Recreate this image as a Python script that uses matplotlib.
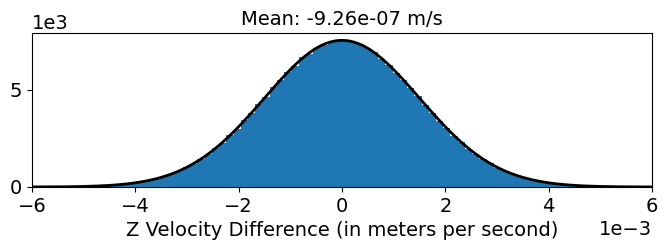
import matplotlib
matplotlib.use("Agg")
import matplotlib.pyplot as plt
import numpy as np
from matplotlib.ticker import MultipleLocator


# histogram: 100 bins from -7e-3 to 7e-3 m/s
bin_lo = -7e-3
bin_hi = 7e-3
counts = [
    0, 0, 1, 0, 1, 2, 1, 3, 4, 7, 9, 10, 18, 21, 33, 40, 59, 73, 103, 128,
    176, 214, 287, 349, 452, 548, 690, 826, 1020, 1205, 1450, 1690, 2010, 2290,
    2660, 3010, 3430, 3810, 4270, 4660, 5130, 5490, 5950, 6260, 6680, 6880,
    7190, 7330, 7510, 7530,
    7560, 7470, 7370, 7140, 6950, 6600, 6310, 5890, 5540, 5080, 4700, 4230,
    3840, 3400, 3040, 2630, 2320, 1980, 1720, 1430, 1220, 1000, 845, 675, 560,
    440, 360, 278, 225, 168, 135, 98, 78, 55, 43, 30, 24, 16, 12, 8, 6, 4, 3,
    2, 1, 1, 0, 1, 0, 0,
]

# fitted normal
mean = -9.26e-07
std = 1.5e-3

edges = np.linspace(bin_lo, bin_hi, len(counts) + 1)
centers = (edges[:-1] + edges[1:]) / 2
width = edges[1] - edges[0]

fig = plt.figure(figsize=(6.68, 2.5), dpi=100)
ax = fig.add_axes([0.048, 0.252, 0.928, 0.616])

ax.hist(centers, bins=edges, weights=counts, color="#1f77b4")

xs = np.linspace(-6e-3, 6e-3, 400)
scale = sum(counts) * width
pdf = np.exp(-0.5 * ((xs - mean) / std) ** 2) / (std * np.sqrt(2 * np.pi))
ax.plot(xs, pdf * scale, color="black", linewidth=2)

ax.set_xlim(-6e-3, 6e-3)
ax.xaxis.set_major_locator(MultipleLocator(2e-3))
ax.yaxis.set_major_locator(MultipleLocator(5000))
ax.ticklabel_format(style="sci", scilimits=(0, 0), axis="both")
ax.tick_params(labelsize=14)
ax.xaxis.get_offset_text().set_fontsize(14)
ax.yaxis.get_offset_text().set_fontsize(14)

ax.set_title(f"Mean: {mean:.2e} m/s", fontsize=14)
ax.set_xlabel("Z Velocity Difference (in meters per second)", fontsize=14)

fig.savefig("out.png", dpi=100)
